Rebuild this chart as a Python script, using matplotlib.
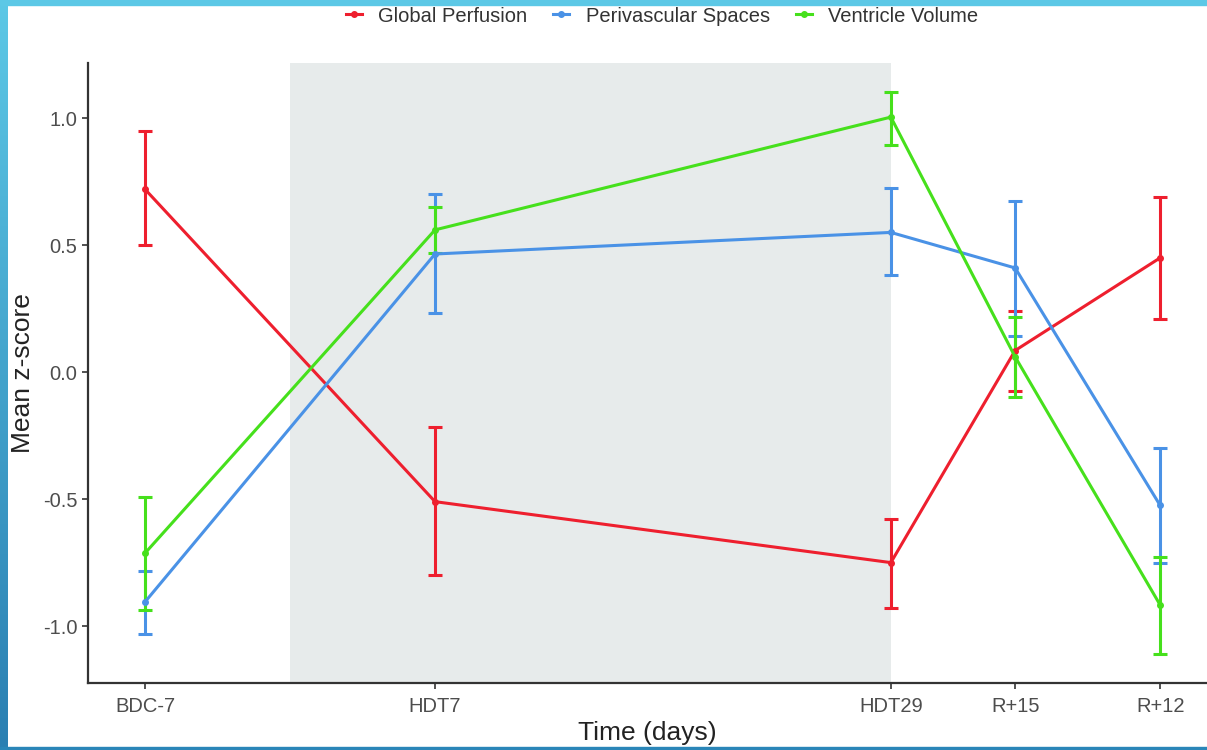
import matplotlib
matplotlib.use('Agg')
import matplotlib.pyplot as plt
from matplotlib.patches import Rectangle
from matplotlib.lines import Line2D
from matplotlib.colors import LinearSegmentedColormap
import numpy as np

plt.rcParams['font.family'] = ['Liberation Sans', 'DejaVu Sans']

# time points (days) and their labels
days = [-7, 7, 29, 35, 42]
labels = ['BDC-7', 'HDT7', 'HDT29', 'R+15', 'R+12']

# mean z-scores with lower / upper error bounds
perfusion = [0.72, -0.51, -0.75, 0.085, 0.45]
perfusion_lo = [0.50, -0.80, -0.93, -0.075, 0.21]
perfusion_hi = [0.95, -0.215, -0.58, 0.24, 0.69]

pvs = [-0.905, 0.465, 0.55, 0.41, -0.525]
pvs_lo = [-1.03, 0.232, 0.382, 0.142, -0.752]
pvs_hi = [-0.783, 0.70, 0.724, 0.673, -0.30]

ventricle = [-0.713, 0.56, 1.004, 0.06, -0.917]
ventricle_lo = [-0.937, 0.47, 0.894, -0.098, -1.108]
ventricle_hi = [-0.492, 0.65, 1.102, 0.216, -0.728]

series = [
    ('Global Perfusion', perfusion, perfusion_lo, perfusion_hi, '#ee1f2e'),
    ('Perivascular Spaces', pvs, pvs_lo, pvs_hi, '#4a92e6'),
    ('Ventricle Volume', ventricle, ventricle_lo, ventricle_hi, '#46e01c'),
]

# head-down tilt period
hdt_start, hdt_end = 0, 29

W, H = 1207, 750
fig = plt.figure(figsize=(W / 100, H / 100), dpi=100)

# slide frame: top / bottom stripes and a gradient on the left
fig.patches.append(Rectangle((0, 1 - 5 / H), 1, 5 / H, transform=fig.transFigure,
                             color='#5cc8e6', zorder=0))
fig.patches.append(Rectangle((0, 0), 1, 3 / H, transform=fig.transFigure,
                             color='#2a86b8', zorder=0))
gax = fig.add_axes([0, 0, 8 / W, 1])
grad = np.linspace(0, 1, 256).reshape(-1, 1)
cmap = LinearSegmentedColormap.from_list('frame', ['#5cc8e6', '#2a7fb2'])
gax.imshow(grad, aspect='auto', cmap=cmap, extent=[0, 1, 0, 1])
gax.axis('off')

ax = fig.add_axes([88 / W, (750 - 683) / H, 1 - 88 / W, (683 - 63) / H])
ax.axvspan(hdt_start, hdt_end, color='#e7ebeb', zorder=0, lw=0)

for name, mean, lo, hi, col in series:
    mean = np.array(mean)
    err = [mean - np.array(lo), np.array(hi) - mean]
    ax.errorbar(days, mean, yerr=err, color=col, lw=2.2, marker='o', ms=4,
                capsize=5, capthick=2.2, elinewidth=2.2, label=name, zorder=3)

ax.set_xlim(-9.75, 44.26)
ax.set_ylim(-1.224, 1.217)
ax.set_xticks(days)
ax.set_xticklabels(labels)
ax.set_yticks([-1.0, -0.5, 0.0, 0.5, 1.0])
ax.set_yticklabels(['-1.0', '-0.5', '0.0', '0.5', '1.0'])
ax.tick_params(colors='#333333', labelcolor='#4d4d4d', labelsize=14.5,
               length=4, width=1.2)
ax.tick_params(axis='x', pad=6)
for s in ['top', 'right']:
    ax.spines[s].set_visible(False)
for s in ['left', 'bottom']:
    ax.spines[s].set_color('#333333')
    ax.spines[s].set_linewidth(1.6)

ax.set_xlabel('Time (days)', fontsize=19, color='#222222', labelpad=4)
ax.set_ylabel('Mean z-score', fontsize=19, color='#222222', labelpad=6)

handles = [Line2D([], [], color=c, lw=2.2, marker='o', ms=4) for _, _, _, _, c in series]
fig.legend(handles, [s[0] for s in series], loc='center', ncol=3,
           bbox_to_anchor=(662 / W, 1 - 16 / H), frameon=False, fontsize=14.5,
           handlelength=0.8, handletextpad=0.8, columnspacing=1.3,
           labelcolor='#333333')

fig.savefig('out.png', dpi=100)
